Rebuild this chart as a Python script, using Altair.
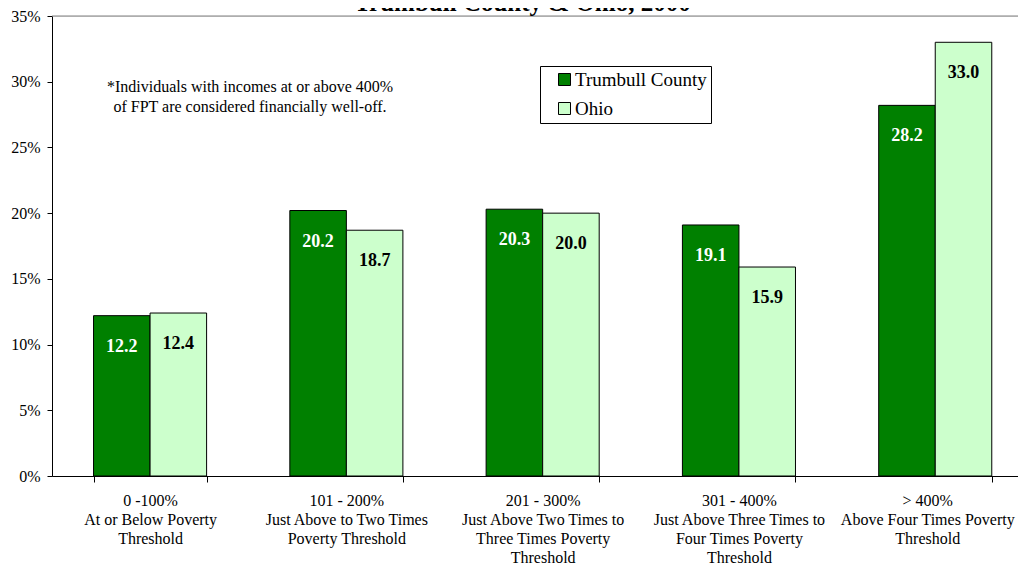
import altair as alt
import pandas as pd

FONT = "Liberation Serif"

categories = [
    "0 -100%|At or Below Poverty|Threshold",
    "101 - 200%|Just Above to Two Times|Poverty Threshold",
    "201 - 300%|Just Above Two Times to|Three Times Poverty|Threshold",
    "301 - 400%|Just Above Three Times to|Four Times Poverty|Threshold",
    "> 400%|Above Four Times Poverty|Threshold",
]
series_names = ["Trumbull County", "Ohio"]
trumbull = [12.2, 20.2, 20.3, 19.1, 28.2]
ohio = [12.4, 18.7, 20.0, 15.9, 33.0]
y_ticks = [0, 5, 10, 15, 20, 25, 30, 35]
y_max = 35
title_text = "Trumbull County & Ohio, 2000"
note_lines = ["*Individuals with incomes at or above 400%",
              "of FPT are considered financially well-off."]

rows = []
for i, c in enumerate(categories):
    rows.append({"cat": c, "series": series_names[0], "value": trumbull[i]})
    rows.append({"cat": c, "series": series_names[1], "value": ohio[i]})
df = pd.DataFrame(rows)

xscale = alt.Scale(domain=categories, paddingInner=0.424, paddingOuter=0.1726, align=0.613)
xoff_scale = alt.Scale(domain=series_names, paddingInner=0, paddingOuter=0)
yscale = alt.Scale(domain=[0, y_max], nice=False, zero=True)

x_axis = alt.Axis(
    title=None, labelAngle=0, labelExpr="split(datum.label, '|')",
    tickBand="extent", tickSize=6, tickColor="black", domainColor="black",
    labelFont=FONT, labelFontSize=16, labelLineHeight=19, labelPadding=10,
    labelColor="black", labelBaseline="top", labelLimit=0,
    labelOffset={"condition": {"test": "datum.index == 1", "value": -8}, "value": 0},
)
y_axis = alt.Axis(
    title=None, values=y_ticks, labelExpr="datum.value + '%'", grid=False,
    tickSize=5, tickColor="black", domainColor="black", labelPadding=7,
    labelFont=FONT, labelFontSize=16, labelColor="black",
)

X = alt.X("cat:N", scale=xscale, sort=categories, axis=x_axis)
XO = alt.XOffset("series:N", scale=xoff_scale, sort=series_names)
Y = alt.Y("value:Q", scale=yscale, axis=y_axis)

base = alt.Chart(df)

top_line = alt.Chart(pd.DataFrame({"v": [y_max]})).mark_rule(
    color="#808080", strokeWidth=1
).encode(y=alt.Y("v:Q", scale=yscale, axis=y_axis))

bars = base.mark_bar(stroke="black", strokeWidth=1).encode(
    x=X, xOffset=XO, y=Y,
    fill=alt.Fill(
        "series:N",
        scale=alt.Scale(domain=series_names, range=["#008000", "#CCFFCC"]),
        legend=alt.Legend(
            title=None, orient="none", legendX=488, legendY=50,
            direction="vertical", strokeColor="black", fillColor="white",
            padding=4, symbolType="square", symbolSize=144,
            symbolStrokeColor="black", symbolStrokeWidth=1,
            labelFont=FONT, labelFontSize=19, labelColor="black",
            labelExpr="datum.label + ' '",
            rowPadding=9, symbolOffset=11, labelOffset=1, cornerRadius=0,
        ),
    ),
)

labels = base.mark_text(
    baseline="middle", dy=31, fontSize=18, fontWeight="bold", font=FONT
).encode(
    x=X, xOffset=XO, y=Y,
    text=alt.Text("value:Q", format=".1f"),
    color=alt.condition("datum.series == 'Trumbull County'",
                        alt.value("white"), alt.value("black")),
)

title = alt.Chart(pd.DataFrame({"t": [title_text]})).mark_text(
    font=FONT, fontSize=25, fontWeight="bold", align="center",
    baseline="alphabetic", color="black"
).encode(x=alt.value(470.5), y=alt.value(-5), text="t:N")

note = alt.Chart(pd.DataFrame({"t": [0]})).mark_text(
    font=FONT, fontSize=16, align="center", baseline="middle",
    lineHeight=20, color="black"
).encode(x=alt.value(198), y=alt.value(71), text=alt.value(note_lines))

chart = alt.layer(top_line, bars, labels, title, note).properties(
    width=966, height=460,
    autosize=alt.AutoSizeParams(type="none"),
    padding={"left": 44, "top": 8, "right": 0, "bottom": 88},
).configure_view(stroke=None).configure(background="white")

chart.save("out.html", embed_options={"renderer": "svg", "actions": False})
